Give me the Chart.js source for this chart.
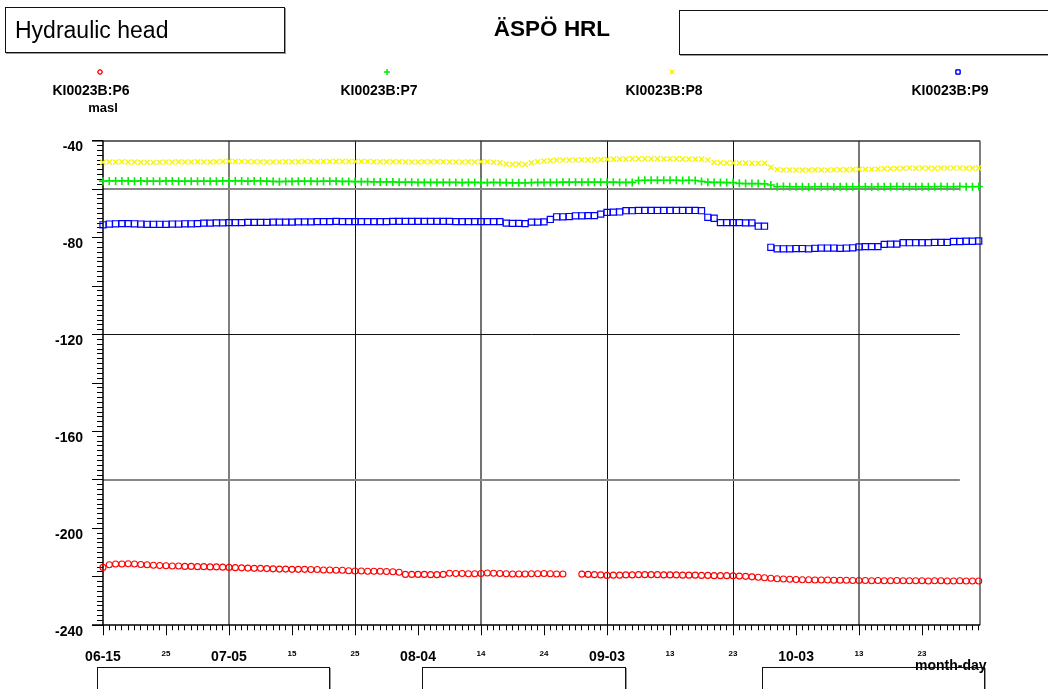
<!DOCTYPE html>
<html><head><meta charset="utf-8">
<script src="https://cdn.jsdelivr.net/npm/chart.js@4/dist/chart.umd.min.js"></script>
<style>
html,body{margin:0;padding:0;background:#fff;}
#wrap{position:relative;width:1048px;height:689px;overflow:hidden;font-family:"Liberation Sans",Arial,sans-serif;color:#000;}
canvas{position:absolute;left:0;top:0;}
.box{position:absolute;border:1px solid #111;box-sizing:border-box;box-shadow:1px 1px 0 #999;}
.t{position:absolute;white-space:nowrap;}
.c{text-align:center;}
.b{font-weight:bold;}
</style></head><body>
<div id="wrap">
<canvas id="c" width="1048" height="689"></canvas>
<div class="box" style="left:5px;top:7px;width:280px;height:46px;"></div>
<div class="t" style="left:15px;top:16px;font-size:23px;line-height:28px;">Hydraulic head</div>
<div class="t c b" style="left:452px;top:15px;width:200px;font-size:22.5px;line-height:28px;">ÄSPÖ HRL</div>
<div class="box" style="left:679px;top:10px;width:420px;height:45px;"></div>
<div class="t c b" style="left:31px;top:82px;width:120px;font-size:14px;line-height:16px;">KI0023B:P6</div>
<div class="t c b" style="left:319px;top:82px;width:120px;font-size:14px;line-height:16px;">KI0023B:P7</div>
<div class="t c b" style="left:604px;top:82px;width:120px;font-size:14px;line-height:16px;">KI0023B:P8</div>
<div class="t c b" style="left:890px;top:82px;width:120px;font-size:14px;line-height:16px;">KI0023B:P9</div>
<div class="t c b" style="left:63px;top:100px;width:80px;font-size:13px;line-height:16px;">masl</div>
<div class="t b" style="left:915px;top:657px;font-size:14px;line-height:16px;">month-day</div>
<div class="box" style="left:97px;top:667px;width:233px;height:40px;"></div>
<div class="box" style="left:422px;top:667px;width:204px;height:40px;"></div>
<div class="box" style="left:762px;top:667px;width:223px;height:40px;"></div>
</div>
<script>
// ---- data (day index 0 = 06-15, one value per day) ----
const seriesNames = ['KI0023B:P6','KI0023B:P7','KI0023B:P8','KI0023B:P9'];
const startLabel = '06-15';
const p6 = [
-216.1,-215.0,-214.7,-214.7,-214.6,-214.7,-214.9,-215.0,-215.2,-215.3,
-215.4,-215.5,-215.5,-215.7,-215.7,-215.8,-215.8,-215.9,-215.9,-216.0,
-216.1,-216.2,-216.3,-216.4,-216.5,-216.5,-216.6,-216.7,-216.8,-216.8,
-216.9,-216.9,-216.9,-217.0,-217.0,-217.2,-217.2,-217.3,-217.3,-217.5,
-217.6,-217.6,-217.7,-217.7,-217.7,-217.8,-217.9,-218.1,-219.0,-219.0,
-219.0,-219.0,-219.1,-219.1,-219.0,-218.5,-218.6,-218.6,-218.7,-218.7,
-218.6,-218.4,-218.5,-218.6,-218.7,-218.8,-218.8,-218.8,-218.7,-218.7,
-218.6,-218.7,-218.8,-218.8,null,null,-218.9,-219.0,-219.1,-219.2,
-219.4,-219.3,-219.3,-219.2,-219.2,-219.1,-219.1,-219.1,-219.1,-219.2,
-219.2,-219.2,-219.3,-219.3,-219.3,-219.4,-219.4,-219.5,-219.5,-219.5,
-219.6,-219.7,-219.8,-220.0,-220.2,-220.4,-220.6,-220.8,-220.9,-221.0,
-221.1,-221.2,-221.2,-221.3,-221.3,-221.3,-221.4,-221.4,-221.4,-221.5,
-221.5,-221.5,-221.6,-221.5,-221.6,-221.6,-221.5,-221.6,-221.6,-221.6,
-221.6,-221.7,-221.6,-221.6,-221.7,-221.7,-221.6,-221.7,-221.7,-221.7];
const p7 = [
-56.7,-56.6,-56.6,-56.6,-56.6,-56.7,-56.6,-56.7,-56.7,-56.7,
-56.6,-56.6,-56.7,-56.7,-56.7,-56.7,-56.7,-56.7,-56.7,-56.6,
-56.6,-56.6,-56.6,-56.7,-56.6,-56.6,-56.7,-56.8,-56.9,-56.8,
-56.8,-56.7,-56.7,-56.7,-56.8,-56.7,-56.7,-56.7,-56.8,-56.8,
-56.9,-56.9,-56.9,-57.0,-57.0,-57.0,-57.0,-57.1,-57.1,-57.1,
-57.2,-57.2,-57.2,-57.2,-57.2,-57.2,-57.2,-57.3,-57.2,-57.2,
-57.3,-57.3,-57.2,-57.3,-57.3,-57.4,-57.4,-57.4,-57.3,-57.2,
-57.2,-57.2,-57.2,-57.1,-57.1,-57.1,-57.1,-57.1,-57.1,-57.1,
-57.1,-57.1,-57.2,-57.2,-57.2,-56.4,-56.3,-56.3,-56.3,-56.3,
-56.3,-56.3,-56.4,-56.3,-56.4,-56.8,-57.1,-57.2,-57.2,-57.3,
-57.3,-57.6,-57.7,-57.7,-57.7,-57.8,-58.3,-59.0,-58.9,-59.0,
-59.0,-59.0,-59.1,-59.0,-59.0,-59.0,-59.1,-59.0,-59.0,-59.0,
-59.0,-59.0,-59.1,-59.0,-59.0,-59.0,-58.9,-59.0,-59.0,-59.0,
-59.0,-59.0,-59.0,-58.9,-59.0,-59.0,-58.9,-59.0,-59.0,-58.9];
const p8 = [
-48.9,-48.8,-48.8,-48.7,-48.8,-48.8,-48.9,-48.9,-49.0,-48.9,
-48.8,-48.8,-48.7,-48.8,-48.8,-48.7,-48.8,-48.8,-48.7,-48.6,
-48.5,-48.6,-48.6,-48.7,-48.7,-48.7,-48.8,-48.8,-48.8,-48.7,
-48.7,-48.7,-48.6,-48.6,-48.7,-48.6,-48.6,-48.6,-48.6,-48.6,
-48.6,-48.6,-48.6,-48.7,-48.7,-48.7,-48.7,-48.7,-48.8,-48.8,
-48.8,-48.7,-48.7,-48.7,-48.7,-48.8,-48.8,-48.8,-48.7,-48.8,
-48.7,-48.7,-48.9,-49.1,-49.6,-49.7,-49.6,-49.8,-49.1,-48.7,
-48.4,-48.3,-48.0,-48.0,-48.0,-48.0,-47.9,-47.9,-47.9,-47.8,
-47.7,-47.6,-47.6,-47.6,-47.5,-47.5,-47.5,-47.5,-47.5,-47.5,
-47.5,-47.5,-47.6,-47.6,-47.6,-47.6,-48.0,-48.9,-49.1,-49.2,
-49.2,-49.2,-49.2,-49.3,-49.3,-49.3,-51.0,-51.9,-52.1,-52.1,
-52.1,-52.1,-52.1,-52.0,-52.1,-52.1,-52.0,-52.0,-52.0,-51.9,
-51.8,-51.8,-51.8,-51.7,-51.6,-51.6,-51.5,-51.4,-51.3,-51.4,
-51.3,-51.3,-51.4,-51.3,-51.3,-51.3,-51.3,-51.4,-51.3,-51.2];
const p9 = [
-74.7,-74.4,-74.3,-74.2,-74.2,-74.3,-74.4,-74.5,-74.5,-74.5,
-74.5,-74.4,-74.4,-74.3,-74.3,-74.2,-74.0,-74.0,-73.9,-73.9,
-73.8,-73.8,-73.8,-73.7,-73.7,-73.7,-73.7,-73.6,-73.6,-73.6,
-73.6,-73.5,-73.5,-73.5,-73.4,-73.4,-73.4,-73.3,-73.4,-73.4,
-73.4,-73.4,-73.4,-73.4,-73.4,-73.4,-73.3,-73.3,-73.3,-73.3,
-73.3,-73.3,-73.3,-73.3,-73.3,-73.3,-73.4,-73.4,-73.4,-73.4,
-73.4,-73.4,-73.4,-73.4,-74.0,-74.1,-74.1,-74.2,-73.6,-73.6,
-73.5,-72.5,-71.4,-71.4,-71.3,-71.0,-71.0,-70.9,-70.9,-70.3,
-69.6,-69.5,-69.4,-68.9,-68.9,-68.8,-68.8,-68.8,-68.8,-68.8,
-68.8,-68.8,-68.8,-68.8,-68.8,-68.9,-71.6,-72.0,-73.8,-73.8,
-73.8,-73.8,-73.9,-73.9,-75.3,-75.3,-84.0,-84.6,-84.6,-84.6,
-84.5,-84.5,-84.6,-84.4,-84.3,-84.3,-84.3,-84.4,-84.3,-84.2,
-83.8,-83.7,-83.7,-83.7,-82.8,-82.7,-82.7,-82.1,-82.1,-82.1,
-82.1,-82.1,-82.0,-82.0,-82.0,-81.6,-81.6,-81.5,-81.5,-81.4];

// ---- axis ticks ----
const xTickDays   = [0,10,20,30,40,50,60,70,80,90,100,110,120,130];
const xTickLabels = ['06-15','25','07-05','15','25','08-04','14','24','09-03','13','23','10-03','13','23'];
const xTickMajor  = [true,false,true,false,false,true,false,false,true,false,false,true,false,false];
const yTickValues = [-240,-200,-160,-120,-80,-40];
const xMin = 0, xMax = 139.2, yMin = -240, yMax = -40;
const gridDays = [20,40,60,80,100,120];
const gridLevels = [-60,-120,-180];

const FONT = '"Liberation Sans", Arial, sans-serif';
const colors = ['#ff0000','#00ee00','#f5f500','#0000ff'];
const styles = ['circle','cross','crossRot','rect'];
const radii  = [3,4,3.6,4.3];
const widths = [1.1,1.6,1.4,1.2];
const values = [p6,p7,p8,p9];

function toPts(arr){ return arr.map((v,i)=>({x:i,y:v})); }

function crisp(v,w){ return (Math.round(w)%2===1) ? Math.round(v-0.5)+0.5 : Math.round(v); }
function seg(ctx,x1,y1,x2,y2,color,w){
  ctx.strokeStyle=color; ctx.lineWidth=w; ctx.beginPath();
  if (x1===x2){ x1=x2=crisp(x1,w); } if (y1===y2){ y1=y2=crisp(y1,w); }
  ctx.moveTo(x1,y1); ctx.lineTo(x2,y2); ctx.stroke();
}

const deco = {
  id:'deco',
  beforeDatasetsDraw(chart){
    const {ctx, scales:{x,y}} = chart;
    const X=v=>x.getPixelForValue(v), Y=v=>y.getPixelForValue(v);
    ctx.save();
    const vCol=['#555','#111','#444','#111','#111','#777'];
    const vW=[1.5,1,1.5,1,1,2];
    gridDays.forEach((d,i)=>seg(ctx,X(d),Y(yMax),X(d),Y(yMin),vCol[i],vW[i]));
    const hCol=['#888','#111','#888'], hW=[2,1,2];
    gridLevels.forEach((v,i)=>seg(ctx,X(xMin),Y(v),X(136),Y(v),hCol[i],hW[i]));
    // frame
    seg(ctx,X(xMin)-11,Y(yMax),X(xMax),Y(yMax),'#333',1.5);
    seg(ctx,X(xMax),Y(yMax),X(xMax),Y(yMin),'#555',1.5);
    seg(ctx,X(xMin),Y(yMax),X(xMin),Y(yMin),'#000',1.5);
    seg(ctx,X(xMin)-11,Y(yMin),X(xMax),Y(yMin),'#000',1.5);
    // x ticks
    for(let d=xMin; d<=139; d++){
      const len = d%10===0 ? 10 : 5;
      seg(ctx,X(d),Y(yMin),X(d),Y(yMin)+len,'#000',1);
    }
    // y ticks
    for(let v=yMin; v<=yMax; v+=2){
      const len = v%20===0 ? 11 : 6;
      seg(ctx,X(xMin)-len,Y(v),X(xMin),Y(v),'#000',1);
    }
    ctx.restore();
  },
  afterDraw(chart){
    // legend markers
    const ctx=chart.ctx;
    const pos=[[100,72],[387,72],[672,72],[958,72]];
    ctx.save();
    pos.forEach((p,i)=>{
      ctx.strokeStyle=colors[i]; ctx.lineWidth=[1,1,1.4,1][i];
      Chart.helpers.drawPoint(ctx,{pointStyle:styles[i],radius:[2.2,3,3,3][i],borderWidth:1,rotation:0},p[0],p[1]);
      ctx.stroke();
    });
    ctx.restore();
  }
};

const datasets = values.map((arr,i)=>({
  label: seriesNames[i],
  data: toPts(arr),
  showLine:false,
  pointStyle: styles[i],
  pointRadius: radii[i],
  pointBorderColor: colors[i],
  pointBackgroundColor: 'rgba(0,0,0,0)',
  pointBorderWidth: widths[i],
  clip: false
}));

new Chart(document.getElementById('c'), {
  type:'scatter',
  data:{datasets},
  options:{
    responsive:false, animation:false, devicePixelRatio:1,
    layout:{padding:{top:140.7,right:68,left:0,bottom:0}},
    plugins:{legend:{display:false}, tooltip:{enabled:false}},
    scales:{
      x:{type:'linear', min:xMin, max:xMax,
         border:{display:false}, grid:{display:false, drawTicks:false},
         ticks:{stepSize:10, autoSkip:false, includeBounds:false, maxRotation:0, minRotation:0,
                padding:23.5, color:'#000',
                font:c=>{const i=xTickDays.indexOf(c.tick?c.tick.value:-1);return {family:FONT,size:(i>=0&&xTickMajor[i])?14:8,weight:'bold'};},
                callback:v=>{const i=xTickDays.indexOf(v);return i>=0?xTickLabels[i]:'';}},
         afterFit:s=>{s.height=63.7;}},
      y:{type:'linear', min:yMin, max:yMax,
         border:{display:false}, grid:{display:false, drawTicks:false},
         afterBuildTicks:s=>{s.ticks=yTickValues.map(v=>({value:v}));},
         ticks:{padding:20, labelOffset:6.5, color:'#000', font:{family:FONT,size:14,weight:'bold'},
                callback:v=>String(v)},
         afterFit:s=>{s.width=103;}}
    }
  },
  plugins:[deco]
});
</script>
</body></html>
